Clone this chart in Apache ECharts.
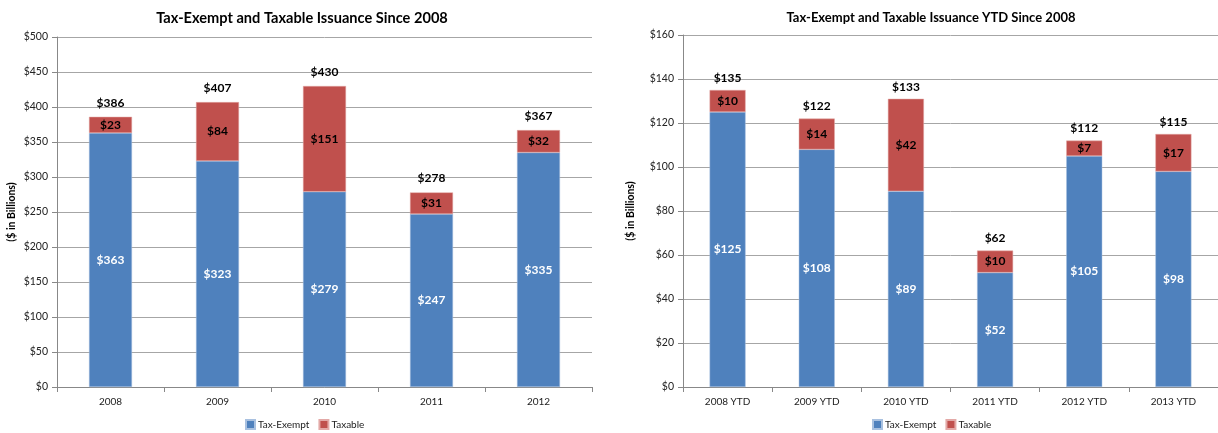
<!DOCTYPE html>
<html>
<head>
<meta charset="utf-8">
<script src="https://cdn.jsdelivr.net/npm/echarts@6/dist/echarts.min.js"></script>
<style>
  html, body { margin: 0; padding: 0; background: #fff; }
  #chart { width: 1218px; height: 433px; }
</style>
</head>
<body>
<div id="chart"></div>
<script>
// Annual issuance ($ in billions)
const yearCats = ['2008', '2009', '2010', '2011', '2012'];
const yearTaxExempt = [363, 323, 279, 247, 335];
const yearTaxable = [23, 84, 151, 31, 32];
const yearTotals = [386, 407, 430, 278, 367];

// Year-to-date issuance ($ in billions)
const ytdCats = ['2008 YTD', '2009 YTD', '2010 YTD', '2011 YTD', '2012 YTD', '2013 YTD'];
const ytdTaxExempt = [125, 108, 89, 52, 105, 98];
const ytdTaxable = [10, 14, 42, 10, 7, 17];
const ytdTotals = [135, 122, 133, 62, 112, 115];

const FONT = "Lato, 'Open Sans', sans-serif";
const BLUE = '#4F81BD';
const RED = '#C0504D';

const chart = echarts.init(document.getElementById('chart'), null, { renderer: 'canvas' });

function money(v) { return '$' + v; }

function yAxis(gridIndex, max, interval) {
  return {
    gridIndex, type: 'value', min: 0, max, interval,
    name: '($ in Billions)', nameLocation: 'middle', nameRotate: 90,
    nameGap: gridIndex === 0 ? 40 : 47,
    nameTextStyle: { fontFamily: FONT, fontWeight: 'bold', fontSize: 10.5, color: '#000' },
    axisLine: { show: true, lineStyle: { color: '#888', width: 1 } },
    axisTick: { show: true, length: 5, lineStyle: { color: '#888' } },
    axisLabel: { fontFamily: FONT, fontSize: 10.5, color: '#222', formatter: money, margin: 9 },
    splitLine: { show: true, lineStyle: { color: '#A6A6A6', width: 1 } }
  };
}

function xAxis(gridIndex, data) {
  return {
    gridIndex, type: 'category', data,
    axisLine: { show: true, lineStyle: { color: '#888', width: 1 } },
    axisTick: { show: true, length: 5, lineStyle: { color: '#888' } },
    axisLabel: { fontFamily: FONT, fontSize: 10, color: '#222', margin: 10 }
  };
}

function stackSeries(idx, exempt, taxable, totals, barWidth, topGap) {
  const stack = 's' + idx;
  return [
    {
      name: 'Tax-Exempt', type: 'bar', xAxisIndex: idx, yAxisIndex: idx, stack,
      data: exempt, barWidth,
      itemStyle: { color: BLUE, borderColor: '#A9C1E0', borderWidth: 0.5 },
      label: { show: true, position: 'inside', formatter: p => money(p.value),
        fontFamily: FONT, fontWeight: 'bold', fontSize: 12, color: '#fff' }
    },
    {
      name: 'Taxable', type: 'bar', xAxisIndex: idx, yAxisIndex: idx, stack,
      data: taxable, barWidth,
      itemStyle: { color: RED, borderColor: '#E3A9A7', borderWidth: 0.5 },
      label: { show: true, position: 'inside', formatter: p => money(p.value),
        fontFamily: FONT, fontWeight: 'bold', fontSize: 12, color: '#000' }
    },
    {
      // zero-height cap carrying the stack total label
      name: 'Total', type: 'bar', xAxisIndex: idx, yAxisIndex: idx, stack,
      data: totals.map(() => 0), barWidth,
      itemStyle: { color: 'transparent' },
      label: { show: true, position: 'top', distance: topGap,
        formatter: p => money(totals[p.dataIndex]),
        fontFamily: FONT, fontWeight: 'bold', fontSize: 12, color: '#000' }
    }
  ];
}

const legendStyle = {
  data: ['Tax-Exempt', 'Taxable'], top: 414, itemWidth: 9, itemHeight: 9, itemGap: 9,
  icon: 'rect', textStyle: { fontFamily: FONT, fontSize: 10, color: '#222', padding: [0, 0, 0, -2] }
};

chart.setOption({
  backgroundColor: '#fff',
  animation: false,
  title: [
    { text: 'Tax-Exempt and Taxable Issuance Since 2008', left: 297, top: 6, textAlign: 'center',
      textStyle: { fontFamily: FONT, fontWeight: 'bold', fontSize: 14.6, color: '#000' } },
    { text: 'Tax-Exempt and Taxable Issuance YTD Since 2008', left: 926, top: 6, textAlign: 'center',
      textStyle: { fontFamily: FONT, fontWeight: 'bold', fontSize: 13, color: '#000' } }
  ],
  legend: [
    Object.assign({}, legendStyle, { left: 240 }),
    Object.assign({}, legendStyle, { left: 867 })
  ],
  grid: [
    { left: 57, right: 626, top: 37, bottom: 46 },
    { left: 683, right: 0, top: 35, bottom: 46 }
  ],
  xAxis: [xAxis(0, yearCats), xAxis(1, ytdCats)],
  yAxis: [yAxis(0, 500, 50), yAxis(1, 160, 20)],
  series: [
    ...stackSeries(0, yearTaxExempt, yearTaxable, yearTotals, 43, 8),
    ...stackSeries(1, ytdTaxExempt, ytdTaxable, ytdTotals, 36, 6)
  ]
});
</script>
</body>
</html>
